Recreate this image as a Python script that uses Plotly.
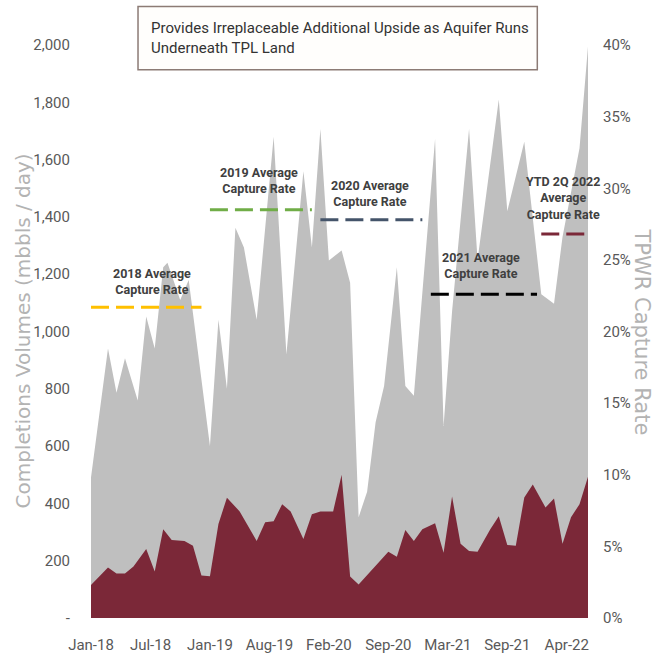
import plotly.graph_objects as go

# ---- data -------------------------------------------------------------
# Period index (bi-weekly periods starting Jan-18) and volumes, mbbls/day
completions_idx = [0, 4, 6, 8, 11, 13, 15, 17, 18, 21, 23, 28, 30, 32, 34, 36, 39,
                   43, 46, 50, 52, 54, 56, 59, 61, 63, 65, 67, 69, 72, 74, 76, 81,
                   83, 85, 89, 91, 96, 98, 102, 106, 109, 111, 115, 117]
completions_vol = [490, 941, 786, 907, 759, 1052, 941, 1224, 1240, 1110, 1180, 600,
                   1041, 800, 1362, 1293, 1041, 1680, 920, 1559, 1293, 1707, 1248,
                   1283, 1170, 352, 441, 683, 810, 1224, 810, 776, 1672, 670, 1070,
                   1707, 1250, 1810, 1420, 1662, 1130, 1097, 1330, 1640, 1995]

tpwr_idx = [0, 4, 6, 8, 10, 13, 15, 17, 19, 22, 24, 26, 28, 30, 32, 35, 39, 41, 43,
            45, 47, 50, 52, 54, 57, 59, 61, 63, 70, 72, 74, 76, 78, 81, 83, 85, 87,
            89, 91, 94, 96, 98, 100, 102, 104, 107, 109, 111, 113, 115, 117]
tpwr_vol = [115, 176, 155, 155, 180, 241, 162, 310, 272, 269, 252, 148, 146, 328,
            420, 372, 269, 334, 338, 397, 372, 276, 362, 372, 372, 500, 145, 117,
            231, 214, 307, 269, 310, 331, 228, 424, 259, 234, 231, 310, 355, 255,
            252, 421, 466, 386, 417, 259, 352, 397, 493]

# Average capture rate per year
avg_labels = ["2018 Average<br>Capture Rate", "2019 Average<br>Capture Rate",
              "2020 Average<br>Capture Rate", "2021 Average<br>Capture Rate",
              "YTD 2Q 2022<br>Average<br>Capture Rate"]
avg_rate = [0.217, 0.285, 0.278, 0.226, 0.268]
avg_start = [0, 28, 54, 80, 106]
avg_end = [26, 52, 78, 105, 117]
avg_colors = ["#FFC000", "#70AD47", "#44546A", "#000000", "#7B2838"]

tick_idx = [0, 14, 28, 42, 56, 70, 84, 98, 112]
tick_text = ["Jan-18", "Jul-18", "Jan-19", "Aug-19", "Feb-20", "Sep-20",
             "Mar-21", "Sep-21", "Apr-22"]
vol_ticks = [0, 200, 400, 600, 800, 1000, 1200, 1400, 1600, 1800, 2000]

# ---- styling ----------------------------------------------------------
BODY = "Roboto, Lato, sans-serif"
WIDE = "DejaVu Sans, Verdana, sans-serif"
GRAY_FILL = "#bfbfbf"
MAROON = "#7B2838"
TICK_COLOR = "#595959"
TITLE_COLOR = "#b3b3b3"

fig = go.Figure()

fig.add_trace(go.Scatter(
    x=completions_idx, y=completions_vol, mode="lines",
    line=dict(width=0, color=GRAY_FILL), fill="tozeroy", fillcolor=GRAY_FILL,
    showlegend=False, hoverinfo="skip"))

fig.add_trace(go.Scatter(
    x=tpwr_idx, y=tpwr_vol, mode="lines",
    line=dict(width=0, color=MAROON), fill="tozeroy", fillcolor=MAROON,
    showlegend=False, hoverinfo="skip"))

for s, e, r, c in zip(avg_start, avg_end, avg_rate, avg_colors):
    fig.add_trace(go.Scatter(
        x=[s, e], y=[r, r], yaxis="y2", mode="lines",
        line=dict(color=c, width=3, dash="18px,7px"),
        showlegend=False, hoverinfo="skip"))

# label positions for the yearly averages: (x index, paper y)
label_pos = [(14.3, 0.588), (39.5, 0.763), (65.7, 0.7405), (91.7, 0.616), (111, 0.7336)]
for txt, (lx, ly) in zip(avg_labels, label_pos):
    fig.add_annotation(x=lx, y=ly, xref="x", yref="paper", text="<b>" + txt + "</b>",
                       showarrow=False, xanchor="center", yanchor="middle",
                       font=dict(family=BODY, size=12.5, color="#404040"))

# headline box
fig.add_shape(type="rect", xref="paper", yref="paper",
              x0=0.0946, x1=0.898, y0=0.957, y1=1.067,
              line=dict(color="#8c7b75", width=1.5), fillcolor="#fffefc", layer="above")
fig.add_annotation(x=0.117, y=1.012, xref="paper", yref="paper",
                   text="Provides Irreplaceable Additional Upside as Aquifer Runs<br>Underneath TPL Land",
                   showarrow=False, xanchor="left", yanchor="middle", align="left",
                   font=dict(family=BODY, size=15, color="#333333"))

# axis titles
fig.add_annotation(x=-0.1388, y=0.5, xref="paper", yref="paper",
                   text="Completions Volumes (mbbls / day)", textangle=-90,
                   showarrow=False, xanchor="center", yanchor="middle",
                   font=dict(family=WIDE, size=20, color=TITLE_COLOR))
fig.add_annotation(x=1.1087, y=0.5, xref="paper", yref="paper",
                   text="TPWR Capture Rate", textangle=90,
                   showarrow=False, xanchor="center", yanchor="middle",
                   font=dict(family=WIDE, size=21, color=TITLE_COLOR))

fig.update_layout(
    width=657, height=666,
    margin=dict(l=91, r=69, t=45, b=41),
    paper_bgcolor="white", plot_bgcolor="white",
    xaxis=dict(range=[0, 117], tickvals=tick_idx, ticktext=tick_text,
               showgrid=False, zeroline=False, showline=False, ticks="",
               ticklabelstandoff=16,
               tickfont=dict(family=BODY, size=15, color=TICK_COLOR)),
    yaxis=dict(range=[0, 2000], tickvals=vol_ticks,
               ticktext=["-" if v == 0 else f"{v:,}" for v in vol_ticks],
               showgrid=False, zeroline=False, showline=False, ticks="",
               ticklabelstandoff=20,
               tickfont=dict(family=BODY, size=15, color=TICK_COLOR)),
    yaxis2=dict(range=[0, 0.40], overlaying="y", side="right",
                tickvals=[0, 0.05, 0.10, 0.15, 0.20, 0.25, 0.30, 0.35, 0.40],
                tickformat=".0%", showgrid=False, zeroline=False, showline=False,
                ticks="", ticklabelstandoff=14,
                tickfont=dict(family=BODY, size=15, color=TICK_COLOR)),
)

fig.write_html("out.html")
